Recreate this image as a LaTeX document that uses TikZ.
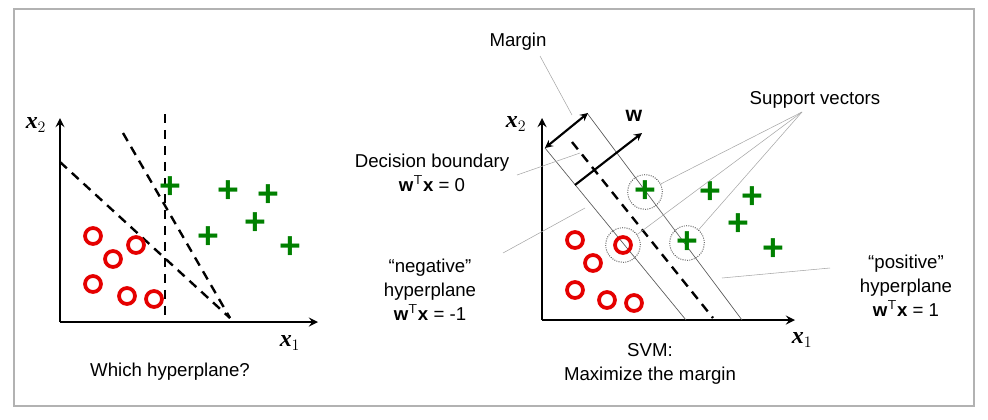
\documentclass[tikz,border=0pt]{standalone}
\usepackage{fontspec}
\setmainfont{Liberation Sans}
\newfontfamily\axfont{Liberation Serif}
\begin{document}
\begin{tikzpicture}[x=0.0264cm,y=-0.0264cm,
    lbl/.style={font=\fontsize{14}{18}\selectfont,inner sep=1pt,align=center},
    axl/.style={font=\axfont\bfseries\itshape\fontsize{18}{18}\selectfont,inner sep=1pt},
    axis/.style={line width=2pt,-stealth},
    hyp/.style={line width=1.8pt,dash pattern=on 7pt off 5pt},
    plane/.style={line width=0.5pt,gray!70!black},
    lead/.style={line width=0.4pt,gray!70},
    negpt/.style={circle,draw=red!90!black,line width=2.8pt,minimum size=12pt,inner sep=0pt},
    pospt/.style={text=green!50!black,font=\fontsize{28}{28}\selectfont\bfseries,inner sep=0pt},
    sv/.style={circle,draw=gray!60!black,densely dotted,line width=0.7pt,minimum size=26pt,inner sep=0pt}]
    \useasboundingbox (0,0) rectangle (988,419);
    \draw[gray!60,line width=0.8pt] (14,9) rectangle (974,406);
    % left plot
    \coordinate (lo) at (60,322);
    \draw[axis] (lo) -- (318,322);
    \draw[axis] (lo) -- (60,118);
    \node[axl] at (36,125) {x$_2$};
    \node[axl] at (290,343) {x$_1$};
    \node[lbl] at (170,372) {Which hyperplane?};
    \draw[hyp] (165,114) -- (165,322);
    \draw[hyp] (60,162) -- (230,318);
    \draw[hyp] (123,133) -- (230,318);
    \foreach \x/\y in {93/236,113/259,136/245,93/284,127/296,154/299}
        \node[negpt] at (\x,\y) {};
    \foreach \x/\y in {170/188,228/192,268/196,255/224,208/238,290/248}
        \node[pospt] at (\x,\y) {+};
    % right plot
    \coordinate (ro) at (542,320);
    \draw[axis] (ro) -- (795,320);
    \draw[axis] (ro) -- (542,118);
    \node[axl] at (516,124) {x$_2$};
    \node[axl] at (802,340) {x$_1$};
    \draw[plane] (545,148) -- (686,320);
    \draw[plane] (587,113) -- (742,320);
    \draw[hyp] (572,142) -- (713,318);
    \draw[line width=1.6pt,stealth-stealth] (545,148) -- (588,113);
    \draw[line width=1.6pt,-stealth] (575,185) -- (642,133);
    \node[lbl,font=\bfseries\fontsize{16}{16}\selectfont] at (634,116) {w};
    \foreach \x/\y in {575/240,593/263,575/290,607/300,634/303}
        \node[negpt] at (\x,\y) {};
    \node[negpt] at (623,245) {};
    \foreach \x/\y in {710/193,752/198,738/225,773/250}
        \node[pospt] at (\x,\y) {+};
    \node[pospt] at (645,192) {+};
    \node[pospt] at (687,243) {+};
    \node[sv] (s1) at (645,192) {};
    \node[sv] (s2) at (623,245) {};
    \node[sv] (s3) at (687,243) {};
    % labels
    \node[lbl] (mg) at (518,42) {Margin};
    \draw[lead] (540,56) -- (572,115);
    \node[lbl] (sup) at (815,100) {Support vectors};
    \draw[lead] (802,112) -- (s1);
    \draw[lead] (802,112) -- (s2);
    \draw[lead] (802,112) -- (s3);
    \node[lbl] (db) at (432,173) {Decision boundary\\\textbf{w}$^{\mathsf T}$\textbf{x} = 0};
    \draw[lead] (517,175) -- (580,153);
    \node[lbl] (ng) at (430,290) {``negative''\\hyperplane\\\textbf{w}$^{\mathsf T}$\textbf{x} = -1};
    \draw[lead] (503,253) -- (585,208);
    \node[lbl] (ps) at (906,286) {``positive''\\hyperplane\\\textbf{w}$^{\mathsf T}$\textbf{x} = 1};
    \draw[lead] (722,278) -- (830,268);
    \node[lbl] at (650,364) {SVM:\\Maximize the margin};
\end{tikzpicture}
\end{document}
